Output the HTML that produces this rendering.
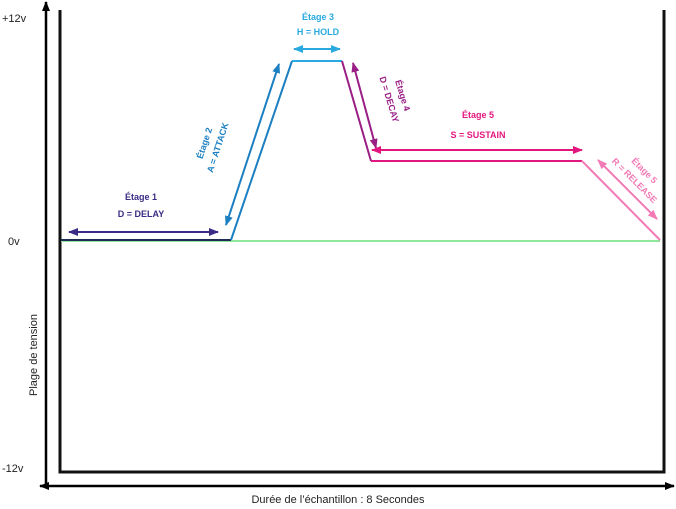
<!DOCTYPE html>
<html><head><meta charset="utf-8"><style>
html,body{margin:0;padding:0;background:#fff;width:676px;height:509px;overflow:hidden}
svg{display:block}
text{font-family:"Liberation Sans",sans-serif}
</style></head><body>
<svg width="676" height="509" viewBox="0 0 676 509" xmlns="http://www.w3.org/2000/svg">
<defs>
<marker id="k" markerWidth="10" markerHeight="8" refX="9" refY="4" orient="auto-start-reverse" markerUnits="userSpaceOnUse"><path d="M0,0 L10,4 L0,8z" fill="#000"/></marker>
<marker id="n" markerWidth="10" markerHeight="8" refX="9" refY="4" orient="auto-start-reverse" markerUnits="userSpaceOnUse"><path d="M0,0 L10,4 L0,8z" fill="#3a2c86"/></marker>
<marker id="a" markerWidth="10" markerHeight="8" refX="9" refY="4" orient="auto-start-reverse" markerUnits="userSpaceOnUse"><path d="M0,0 L10,4 L0,8z" fill="#1b7fc2"/></marker>
<marker id="h" markerWidth="10" markerHeight="8" refX="9" refY="4" orient="auto-start-reverse" markerUnits="userSpaceOnUse"><path d="M0,0 L10,4 L0,8z" fill="#29a9e0"/></marker>
<marker id="d" markerWidth="10" markerHeight="8" refX="9" refY="4" orient="auto-start-reverse" markerUnits="userSpaceOnUse"><path d="M0,0 L10,4 L0,8z" fill="#9a1e86"/></marker>
<marker id="s" markerWidth="10" markerHeight="8" refX="9" refY="4" orient="auto-start-reverse" markerUnits="userSpaceOnUse"><path d="M0,0 L10,4 L0,8z" fill="#e3167f"/></marker>
<marker id="r" markerWidth="10" markerHeight="8" refX="9" refY="4" orient="auto-start-reverse" markerUnits="userSpaceOnUse"><path d="M0,0 L10,4 L0,8z" fill="#f27ab5"/></marker>
</defs>
<line x1="46" y1="485" x2="46" y2="2" stroke="#000" stroke-width="2.5" marker-end="url(#k)"/>
<line x1="40" y1="486" x2="674" y2="486" stroke="#000" stroke-width="2.5" marker-start="url(#k)" marker-end="url(#k)"/>
<polyline points="60,10 60,472 664,472 664,10" fill="none" stroke="#111" stroke-width="3"/>
<line x1="61" y1="241" x2="660" y2="241" stroke="#8fe89a" stroke-width="2"/>
<line x1="61" y1="240" x2="231" y2="240" stroke="#1d2b55" stroke-width="2"/>
<line x1="231" y1="240" x2="292" y2="61" stroke="#1b7fc2" stroke-width="2"/>
<line x1="292" y1="61" x2="342" y2="61" stroke="#29a9e0" stroke-width="2"/>
<line x1="342" y1="61" x2="371" y2="161" stroke="#9a1e86" stroke-width="2"/>
<line x1="371" y1="161" x2="582" y2="161" stroke="#e3167f" stroke-width="2"/>
<line x1="582" y1="161" x2="660" y2="240" stroke="#f27ab5" stroke-width="2"/>
<line x1="69" y1="232" x2="218" y2="232" stroke="#3a2c86" stroke-width="2" marker-start="url(#n)" marker-end="url(#n)"/>
<line x1="226" y1="225" x2="279" y2="64" stroke="#1b7fc2" stroke-width="2" marker-start="url(#a)" marker-end="url(#a)"/>
<line x1="294" y1="49" x2="340" y2="49" stroke="#29a9e0" stroke-width="2" marker-start="url(#h)" marker-end="url(#h)"/>
<line x1="353" y1="63" x2="376" y2="148" stroke="#9a1e86" stroke-width="2" marker-start="url(#d)" marker-end="url(#d)"/>
<line x1="372" y1="150" x2="582" y2="150" stroke="#e3167f" stroke-width="2" marker-start="url(#s)" marker-end="url(#s)"/>
<line x1="598" y1="160" x2="657" y2="219" stroke="#f27ab5" stroke-width="2" marker-start="url(#r)" marker-end="url(#r)"/>
<g font-size="9" font-weight="bold" text-anchor="middle">
<text x="141" y="200" fill="#3a2c86">Étage 1</text>
<text x="141" y="217" fill="#3a2c86">D = DELAY</text>
<text x="318" y="20" fill="#29a9e0">Étage 3</text>
<text x="318" y="35" fill="#29a9e0">H = HOLD</text>
<text x="478" y="118" fill="#e3167f">Étage 5</text>
<text x="478" y="138" fill="#e3167f">S = SUSTAIN</text>
<g transform="translate(213,146) rotate(-72)" fill="#1b7fc2"><text x="0" y="-6">Étage 2</text><text x="0" y="8">A = ATTACK</text></g>
<g transform="translate(394,98) rotate(73)" fill="#9a1e86"><text x="0" y="-6">Étage 4</text><text x="0" y="8">D = DECAY</text></g>
<g transform="translate(638,177) rotate(45)" fill="#f27ab5"><text x="0" y="-6">Étage 5</text><text x="0" y="8">R = RELEASE</text></g>
</g>
<g font-size="11" fill="#222">
<text x="2" y="22">+12v</text>
<text x="8" y="245">0v</text>
<text x="2" y="472">-12v</text>
<text x="338" y="503" text-anchor="middle">Durée de l’échantillon : 8 Secondes</text>
<text transform="translate(37,355) rotate(-90)" text-anchor="middle">Plage de tension</text>
</g>
</svg>
</body></html>
